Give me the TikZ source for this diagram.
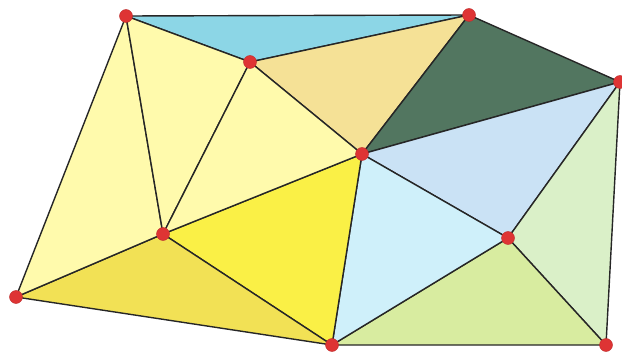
\documentclass[tikz,border=0pt]{standalone}
\begin{document}
\begin{tikzpicture}[x=0.5pt,y=-0.5pt,
  tri/.style={draw=black!85,line width=0.7pt,line join=round},
  vtx/.style={circle,fill=dotred,draw=dotred!85!black,line width=0.2pt,inner sep=0pt,minimum size=6.5pt}]
\definecolor{dotred}{RGB}{222,52,52}
\definecolor{cA}{RGB}{140,214,230}
\definecolor{cB}{RGB}{245,225,150}
\definecolor{cC}{RGB}{82,118,96}
\definecolor{cD}{RGB}{202,226,245}
\definecolor{cE}{RGB}{218,240,200}
\definecolor{cF}{RGB}{216,236,160}
\definecolor{cG}{RGB}{207,240,250}
\definecolor{cH}{RGB}{250,240,70}
\definecolor{cI}{RGB}{242,225,85}
\definecolor{cJ}{RGB}{255,250,172}
\useasboundingbox (0,0) rectangle (622,353);
\coordinate (A) at (126,16);
\coordinate (B) at (469,15);
\coordinate (C) at (620,82);
\coordinate (D) at (250,62);
\coordinate (E) at (362,154);
\coordinate (F) at (163,234);
\coordinate (G) at (508,238);
\coordinate (H) at (16,297);
\coordinate (I) at (332,345);
\coordinate (J) at (606,345);
\filldraw[tri,fill=cA] (A)--(B)--(D)--cycle;
\filldraw[tri,fill=cB] (D)--(B)--(E)--cycle;
\filldraw[tri,fill=cC] (B)--(C)--(E)--cycle;
\filldraw[tri,fill=cD] (E)--(C)--(G)--cycle;
\filldraw[tri,fill=cE] (C)--(G)--(J)--cycle;
\filldraw[tri,fill=cF] (G)--(J)--(I)--cycle;
\filldraw[tri,fill=cG] (E)--(G)--(I)--cycle;
\filldraw[tri,fill=cH] (E)--(I)--(F)--cycle;
\filldraw[tri,fill=cI] (F)--(I)--(H)--cycle;
\filldraw[tri,fill=cJ] (A)--(F)--(H)--cycle;
\filldraw[tri,fill=cJ] (A)--(D)--(F)--cycle;
\filldraw[tri,fill=cJ] (D)--(E)--(F)--cycle;
\foreach \p in {A,B,C,D,E,F,G,H,I,J} \node[vtx] (n\p) at (\p) {};
\end{tikzpicture}
\end{document}
